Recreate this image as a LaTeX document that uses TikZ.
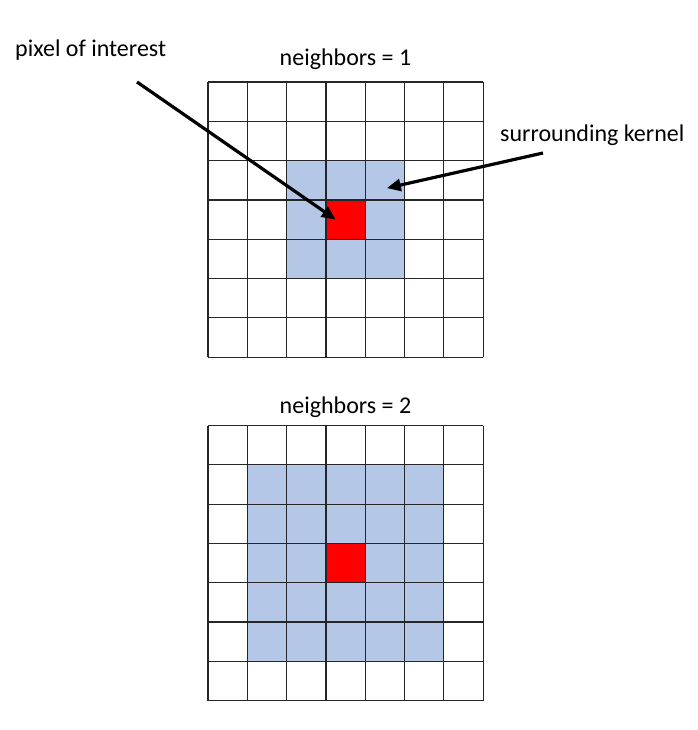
\documentclass[tikz,border=0pt]{standalone}
\usepackage{fontspec}
\setmainfont{Carlito}
\usetikzlibrary{arrows.meta}
\begin{document}
\begin{tikzpicture}[x=1pt,y=-1pt,
  lbl/.style={font=\fontsize{24}{28}\selectfont, inner sep=0pt},
  gridline/.style={line width=1.2pt, black!85},
  kern/.style={fill={rgb,255:red,180;green,199;blue,231}},
  poi/.style={fill={rgb,255:red,255;green,0;blue,0}},
  bigarrow/.style={line width=3.2pt, -{Triangle[length=14pt,width=12pt]}}]
\useasboundingbox (0,0) rectangle (697,730);
\def\cs{39.3}
% top grid
\begin{scope}[shift={(208,82)}]
  \fill[kern] (2*\cs,2*\cs) rectangle (5*\cs,5*\cs);
  \fill[poi] (3*\cs,3*\cs) rectangle (4*\cs,4*\cs);
  \foreach \i in {0,...,7}{
    \draw[gridline] (\i*\cs,0) -- (\i*\cs,7*\cs);
    \draw[gridline] (0,\i*\cs) -- (7*\cs,\i*\cs);
  }
  \coordinate (poiA) at (3.25*\cs,3.5*\cs);
  \coordinate (kernA) at (4.55*\cs,2.7*\cs);
\end{scope}
% bottom grid
\begin{scope}[shift={(208,425.5)}]
  \fill[kern] (1*\cs,1*\cs) rectangle (6*\cs,6*\cs);
  \fill[poi] (3*\cs,3*\cs) rectangle (4*\cs,4*\cs);
  \foreach \i in {0,...,7}{
    \draw[gridline] (\i*\cs,0) -- (\i*\cs,7*\cs);
    \draw[gridline] (0,\i*\cs) -- (7*\cs,\i*\cs);
  }
\end{scope}
\node[lbl, anchor=base west] (ptext) at (15,57) {pixel of interest};
\node[lbl, anchor=base] (t1) at (345.5,66) {neighbors = 1};
\node[lbl, anchor=base] (t2) at (345.5,413) {neighbors = 2};
\node[lbl, anchor=base west] (ktext) at (500,142) {surrounding kernel};
\coordinate (pstart) at (137,82);
\coordinate (kstart) at (543,153);
\draw[bigarrow] (pstart) -- (poiA);
\draw[bigarrow] (kstart) -- (kernA);
\end{tikzpicture}
\end{document}
